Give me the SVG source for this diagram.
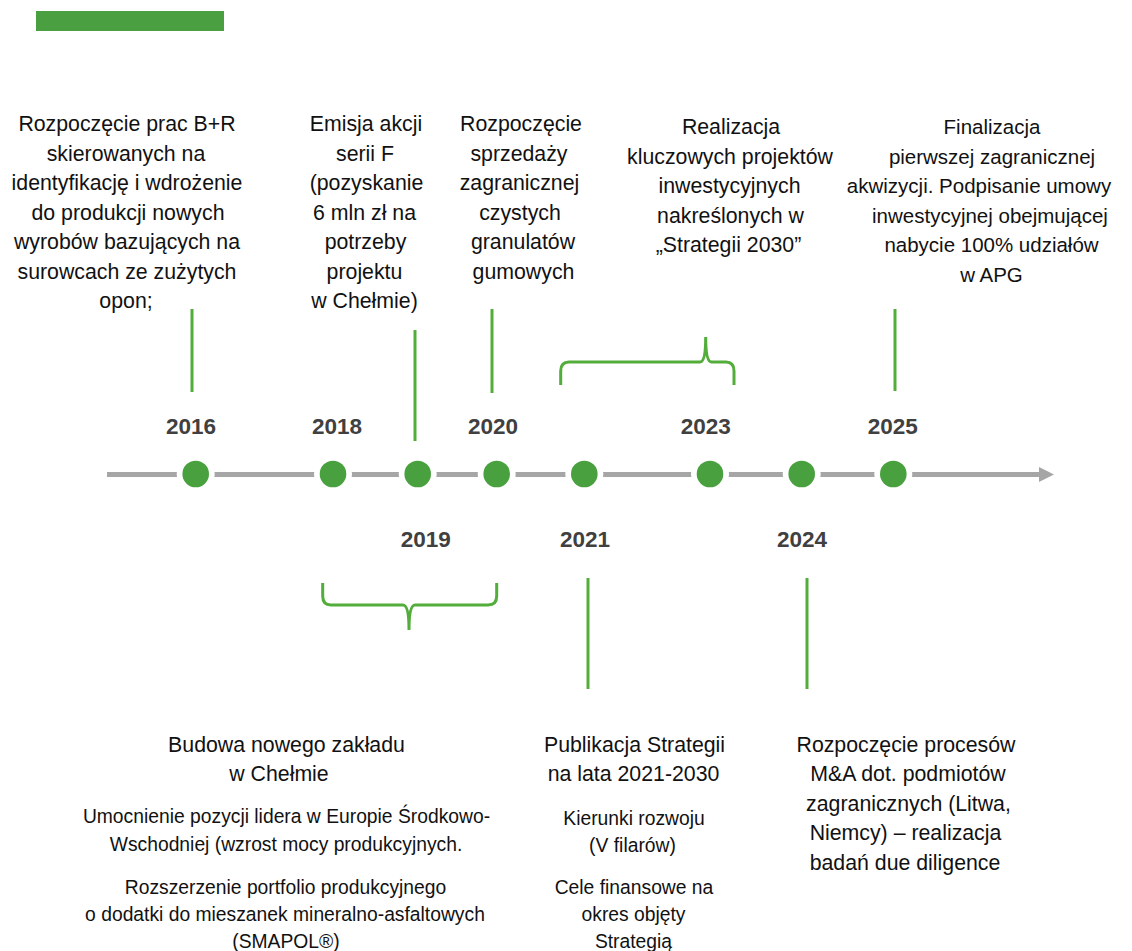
<svg xmlns="http://www.w3.org/2000/svg" width="1132" height="951" viewBox="0 0 1132 951" xml:space="preserve">
<style>
text{font-family:"Liberation Sans",Arial,sans-serif;fill:#111;text-anchor:middle}
.m{font-size:21.3px}
.s{font-size:19.3px}
.y{font-size:22.5px;font-weight:bold;fill:#404040}
.g{stroke:#52AD3A;stroke-width:3;fill:none;stroke-linecap:butt}
.dot{fill:#48A03E}
.halo{fill:#fff}
</style>
<rect width="1132" height="951" fill="#fff"/>
<rect x="36" y="11" width="188" height="20" fill="#4AA040"/>

<g id="connectors">
<line x1="107" y1="474.5" x2="1040" y2="474.5" stroke="#A6A6A6" stroke-width="5"/>
<polygon points="1039,467 1054,474.5 1039,482" fill="#A6A6A6"/>
<line class="g" x1="192" y1="309" x2="192" y2="392"/>
<line class="g" x1="415" y1="330" x2="415" y2="441"/>
<line class="g" x1="492" y1="309" x2="492" y2="393"/>
<line class="g" x1="895" y1="309" x2="895" y2="391"/>
<line class="g" x1="588" y1="578" x2="588" y2="689"/>
<line class="g" x1="807" y1="578" x2="807" y2="689"/>
<path class="g" d="M560.7,385 V371 Q560.7,362 569,362 H700 Q705.7,362 705.7,337 Q705.7,362 711.5,362 H726 Q734,362 734,371 V385"/>
<path class="g" d="M322.7,583 V596 Q322.7,605 331,605 H403 Q409,605 409,630 Q409,605 415,605 H488 Q496.7,605 496.7,596 V583"/>
</g>

<g id="dot-2016"><circle class="halo" cx="195.7" cy="474" r="19"/><circle class="dot" cx="195.7" cy="474" r="13.3"/><text class="y" x="191" y="434">2016</text></g>
<g id="dot-2018"><circle class="halo" cx="333" cy="474" r="19"/><circle class="dot" cx="333" cy="474" r="13.3"/><text class="y" x="337" y="434">2018</text></g>
<g id="dot-2019"><circle class="halo" cx="417.7" cy="474" r="19"/><circle class="dot" cx="417.7" cy="474" r="13.3"/><text class="y" x="425.7" y="547">2019</text></g>
<g id="dot-2020"><circle class="halo" cx="496.7" cy="474" r="19"/><circle class="dot" cx="496.7" cy="474" r="13.3"/><text class="y" x="493" y="434">2020</text></g>
<g id="dot-2021"><circle class="halo" cx="584.3" cy="474" r="19"/><circle class="dot" cx="584.3" cy="474" r="13.3"/><text class="y" x="585" y="547">2021</text></g>
<g id="dot-2023"><circle class="halo" cx="710" cy="474" r="19"/><circle class="dot" cx="710" cy="474" r="13.3"/><text class="y" x="705.7" y="434">2023</text></g>
<g id="dot-2024"><circle class="halo" cx="801.7" cy="474" r="19"/><circle class="dot" cx="801.7" cy="474" r="13.3"/><text class="y" x="802" y="547">2024</text></g>
<g id="dot-2025"><circle class="halo" cx="893.3" cy="474" r="19"/><circle class="dot" cx="893.3" cy="474" r="13.3"/><text class="y" x="892.7" y="434">2025</text></g>

<g id="note-2016">
<text class="m" x="127" y="131">Rozpoczęcie prac B+R</text>
<text class="m" x="126" y="160.5">skierowanych na</text>
<text class="m" x="127" y="190">identyfikację  i wdrożenie</text>
<text class="m" x="128" y="219.5">do produkcji  nowych</text>
<text class="m" x="127" y="249">wyrobów  bazujących na</text>
<text class="m" x="127" y="278.5">surowcach ze zużytych</text>
<text class="m" x="126" y="308">opon;</text>
</g>

<g id="note-2019-emisja">
<text class="m" x="366" y="131">Emisja akcji</text>
<text class="m" x="365" y="160.5">serii F</text>
<text class="m" x="366.5" y="190">(pozyskanie</text>
<text class="m" x="364.5" y="219.5">6 mln  zł na</text>
<text class="m" x="365.5" y="249">potrzeby</text>
<text class="m" x="364.5" y="278.5">projektu</text>
<text class="m" x="364.5" y="308">w Chełmie)</text>
</g>

<g id="note-2020">
<text class="m" x="521" y="131">Rozpoczęcie</text>
<text class="m" x="519" y="160.5">sprzedaży</text>
<text class="m" x="519.5" y="190">zagranicznej</text>
<text class="m" x="520" y="219.5">czystych</text>
<text class="m" x="523" y="249">granulatów</text>
<text class="m" x="523.5" y="278.5">gumowych</text>
</g>

<g id="note-2023">
<text class="m" x="731" y="134">Realizacja</text>
<text class="m" x="730" y="163.5">kluczowych  projektów</text>
<text class="m" x="729.5" y="193">inwestycyjnych</text>
<text class="m" x="730.5" y="222.5">nakreślonych w</text>
<text class="m" x="728.5" y="252">„Strategii 2030”</text>
</g>

<g id="note-2025">
<text x="992" y="134" style="font-size:20.5px">Finalizacja</text>
<text x="992" y="163.5" style="font-size:20.5px">pierwszej zagranicznej</text>
<text x="979" y="193" style="font-size:20.5px">akwizycji.  Podpisanie umowy</text>
<text x="990" y="222.5" style="font-size:20.5px">inwestycyjnej  obejmującej</text>
<text x="991.5" y="252" style="font-size:20.5px">nabycie 100% udziałów</text>
<text x="991.5" y="281.5" style="font-size:20.5px">w APG</text>
</g>

<g id="note-2019-budowa">
<text class="m" x="286.5" y="752">Budowa  nowego  zakładu</text>
<text class="m" x="279" y="781">w Chełmie</text>
<text class="s" x="286.5" y="823">Umocnienie pozycji lidera w Europie Środkowo-</text>
<text class="s" x="286" y="851">Wschodniej (wzrost mocy produkcyjnych.</text>
<text class="s" x="285.5" y="894">Rozszerzenie  portfolio produkcyjnego</text>
<text class="s" x="285" y="921">o dodatki do mieszanek mineralno-asfaltowych</text>
<text class="s" x="286" y="948">(SMAPOL®)</text>
</g>

<g id="note-2021">
<text class="m" x="634.5" y="752">Publikacja  Strategii</text>
<text class="m" x="633.5" y="781">na lata 2021-2030</text>
<text class="s" x="634" y="825">Kierunki rozwoju</text>
<text class="s" x="632.5" y="852">(V filarów)</text>
<text class="s" x="634" y="894">Cele finansowe na</text>
<text class="s" x="633.5" y="921">okres objęty</text>
<text class="s" x="633.5" y="948">Strategią</text>
</g>

<g id="note-2024">
<text class="m" x="906" y="752">Rozpoczęcie procesów</text>
<text class="m" x="908" y="781">M&amp;A dot. podmiotów</text>
<text class="m" x="908.5" y="810.5">zagranicznych  (Litwa,</text>
<text class="m" x="905.5" y="840">Niemcy) – realizacja</text>
<text class="m" x="905" y="869.5">badań due  diligence</text>
</g>
</svg>
